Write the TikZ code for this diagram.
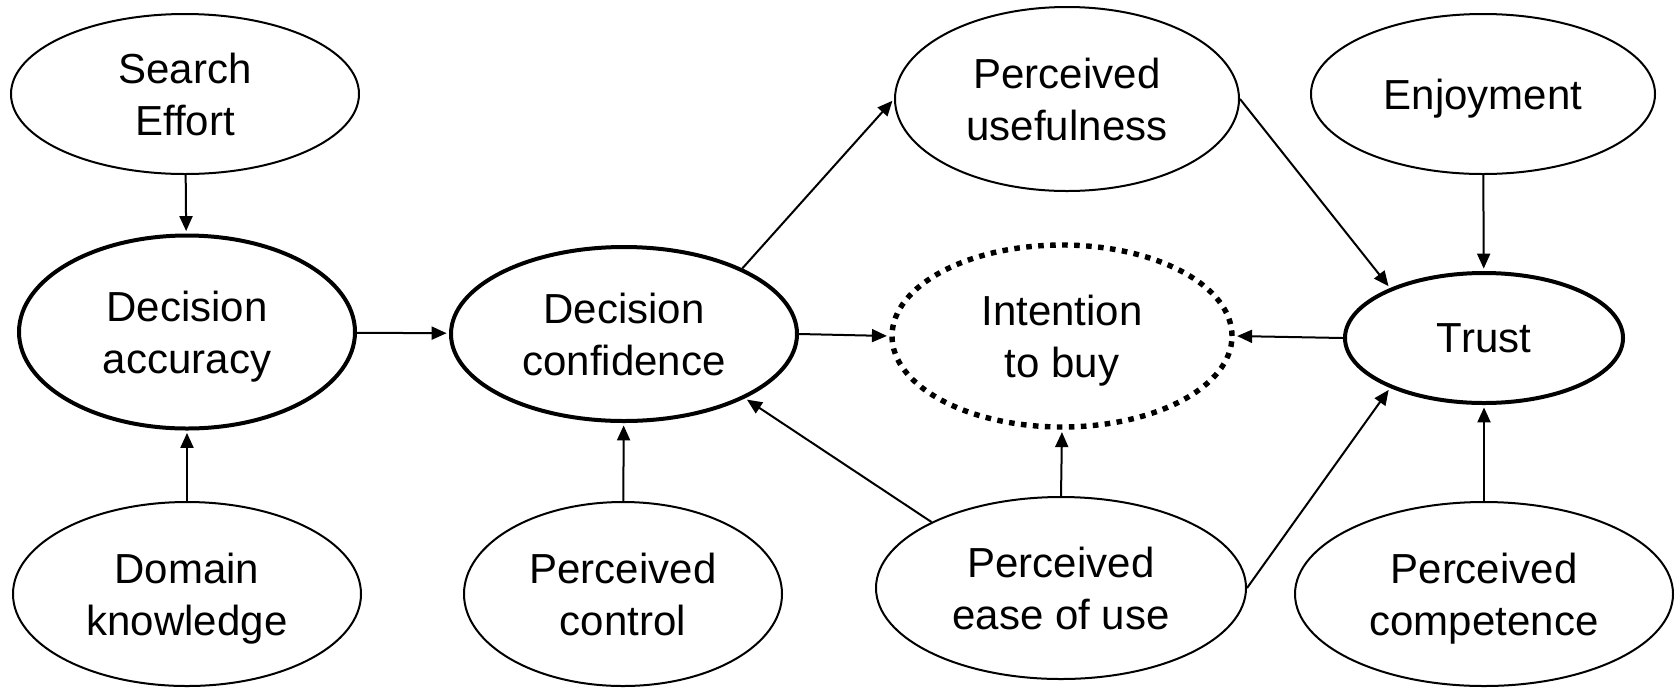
\documentclass[tikz,border=0pt]{standalone}
\usepackage{fontspec}
\setmainfont{Liberation Sans}
\usetikzlibrary{shapes.geometric,arrows.meta}
\begin{document}
\begin{tikzpicture}[x=0.5pt,y=-0.5pt,
  every node/.style={font=\fontsize{21pt}{26pt}\selectfont, align=center, text depth=-1.5pt},
  var/.style={ellipse, draw, line width=1pt, inner sep=0pt},
  key/.style={ellipse, draw, line width=2pt, inner sep=0pt},
  goal/.style={ellipse, draw, line width=2.7pt, inner sep=0pt, dash pattern=on 2.8pt off 3.2pt},
  link/.style={line width=1pt, -{Triangle[length=7.5pt,width=6.5pt]}, shorten >=1.2pt}]
\useasboundingbox (0,0) rectangle (1675,687);
% nodes (size in pt = radius in px)
\node[var, minimum width=174pt, minimum height=80pt] (se) at (185,94) {Search\\Effort};
\node[key, minimum width=168pt, minimum height=96.5pt] (da) at (187,332) {Decision\\accuracy};
\node[var, minimum width=174pt, minimum height=92pt] (dk) at (187,594) {Domain\\knowledge};
\node[key, minimum width=173pt, minimum height=87pt] (dc) at (624,334) {Decision\\confidence};
\node[var, minimum width=159pt, minimum height=92pt] (pc) at (623,594) {Perceived\\control};
\node[var, minimum width=172pt, minimum height=92pt] (pu) at (1067,99) {Perceived\\usefulness};
\node[goal, minimum width=170pt, minimum height=91pt] (itb) at (1062,336) {Intention\\to buy};
\node[var, minimum width=185pt, minimum height=91pt] (peu) at (1061,588) {Perceived\\ease of use};
\node[var, minimum width=172pt, minimum height=80pt] (en) at (1483,94) {Enjoyment};
\node[key, minimum width=139pt, minimum height=65pt] (tr) at (1484,338) {Trust};
\node[var, minimum width=189pt, minimum height=92pt] (pco) at (1484,594) {Perceived\\competence};
% connectors
\draw[link] (se) -- (da);
\draw[link] (dk) -- (da);
\draw[link] (da) -- (dc);
\draw[link] (pc) -- (dc);
\draw[link] (dc.29) -- (pu.west);
\draw[link] (dc.east) -- (itb.west);
\draw[link] (peu.153) -- (dc.-28);
\draw[link] (peu.north) -- (itb.south);
\draw[link] (pu.east) -- (tr.152);
\draw[link] (tr.west) -- (itb.east);
\draw[link] (en) -- (tr);
\draw[link] (pco) -- (tr);
\draw[link] (peu.east) -- (tr.208);
\end{tikzpicture}
\end{document}
